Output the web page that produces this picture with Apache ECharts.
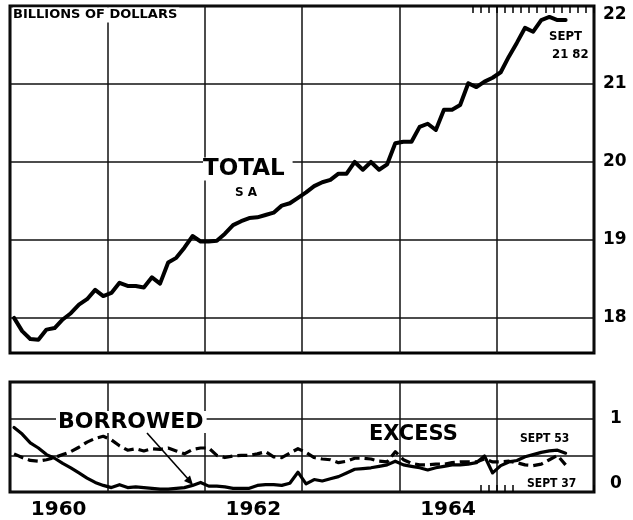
<!DOCTYPE html>
<html>
<head>
<meta charset="utf-8">
<title>Bank reserves</title>
<script src="https://cdn.jsdelivr.net/npm/echarts@6.0.0/dist/echarts.min.js"></script>
<style>
  html, body { margin: 0; padding: 0; background: #fff; }
  #chart { width: 633px; height: 520px; }
</style>
</head>
<body>
<div id="chart"></div>
<script>
// data, monthly from Jan 1960 to Sept 1965
const years = ['1960', '1961', '1962', '1963', '1964', '1965'];
const monthNames = ['Jan', 'Feb', 'Mar', 'Apr', 'May', 'Jun', 'Jul', 'Aug', 'Sep', 'Oct', 'Nov', 'Dec'];
const months = [];
years.forEach(y => monthNames.forEach(m => months.push(m + ' ' + y)));

// total reserves, seasonally adjusted (billions)
const total = [
  18.00, 17.83, 17.73, 17.72, 17.85, 17.87, 17.98, 18.06, 18.17, 18.24, 18.36, 18.28,
  18.32, 18.45, 18.41, 18.41, 18.39, 18.52, 18.44, 18.71, 18.77, 18.90, 19.05, 18.98,
  18.98, 18.99, 19.08, 19.19, 19.24, 19.28, 19.29, 19.32, 19.35, 19.44, 19.47, 19.54,
  19.61, 19.69, 19.74, 19.77, 19.85, 19.85, 20.00, 19.90, 20.00, 19.90, 19.97, 20.24,
  20.26, 20.26, 20.45, 20.49, 20.41, 20.67, 20.67, 20.73, 21.01, 20.96, 21.03, 21.08,
  21.15, 21.35, 21.53, 21.72, 21.67, 21.82, 21.86, 21.82, 21.82
];
// member bank borrowings
const borrowed = [
  0.88, 0.79, 0.67, 0.60, 0.51, 0.46, 0.39, 0.33, 0.26, 0.19, 0.13, 0.09,
  0.06, 0.10, 0.06, 0.07, 0.06, 0.05, 0.04, 0.04, 0.05, 0.06, 0.09, 0.13,
  0.08, 0.08, 0.07, 0.05, 0.05, 0.05, 0.09, 0.10, 0.10, 0.09, 0.12, 0.27,
  0.11, 0.17, 0.15, 0.18, 0.21, 0.26, 0.31, 0.32, 0.33, 0.35, 0.37, 0.42,
  0.37, 0.35, 0.33, 0.30, 0.33, 0.35, 0.37, 0.37, 0.38, 0.40, 0.49, 0.26,
  0.36, 0.41, 0.43, 0.48, 0.51, 0.54, 0.56, 0.57, 0.53
];
// excess reserves
const excess = [
  0.52, 0.47, 0.43, 0.42, 0.44, 0.47, 0.51, 0.55, 0.61, 0.68, 0.73, 0.76,
  0.71, 0.63, 0.57, 0.59, 0.56, 0.59, 0.58, 0.60, 0.56, 0.52, 0.58, 0.60,
  0.60, 0.50, 0.47, 0.49, 0.50, 0.50, 0.52, 0.55, 0.48, 0.47, 0.53, 0.59,
  0.54, 0.47, 0.45, 0.44, 0.40, 0.42, 0.46, 0.46, 0.45, 0.42, 0.41, 0.55,
  0.44, 0.39, 0.37, 0.37, 0.38, 0.38, 0.40, 0.41, 0.41, 0.41, 0.45, 0.41,
  0.41, 0.42, 0.40, 0.37, 0.36, 0.38, 0.44, 0.50, 0.37
];

const totalMin = 17.55, totalMax = 22;
const reserveMin = 0, reserveMax = 1.5;

// month boundaries that carry the small tick marks
const topTickFrom = 57, topTickTo = 71;
const bottomTickFrom = 58, bottomTickTo = 62;

const FONT = '"DejaVu Sans", "Liberation Sans", sans-serif';
const NARROW = '"Liberation Sans Narrow", "DejaVu Sans Condensed", "DejaVu Sans", sans-serif';

const chart = echarts.init(document.getElementById('chart'), null, { renderer: 'canvas' });

// top axis steps by 0.05 from 17.55, so every 20th line (18, 19, 20 ...) is a grid line
const topSplitColors = [];
for (let i = 0; i < 20; i++) topSplitColors.push(i === 9 ? '#111' : 'rgba(0,0,0,0)');

const isWhole = v => Math.abs(v - Math.round(v)) < 1e-6;

const gridLine = { show: true, interval: 11, lineStyle: { color: '#111', width: 1.5 } };
const hidden = { axisLine: { show: false }, axisLabel: { show: false }, splitLine: { show: false } };

function txt(text, x, y, size, opts) {
  return {
    type: 'text', x: x, y: y, z: 100,
    style: Object.assign({
      text: text, font: 'bold ' + size + 'px ' + FONT, fill: '#000',
      textAlign: 'left', textVerticalAlign: 'middle'
    }, opts || {})
  };
}

chart.setOption({
  animation: false,
  backgroundColor: '#fff',
  grid: [
    { left: 10, top: 6, width: 584, height: 347, show: true, borderColor: '#000', borderWidth: 3, backgroundColor: 'transparent' },
    { left: 10, top: 382, width: 584, height: 114, show: true, borderColor: '#000', borderWidth: 3, backgroundColor: 'transparent' }
  ],
  xAxis: [
    { type: 'category', gridIndex: 0, data: months, boundaryGap: true,
      axisLine: { show: false }, axisTick: { show: false }, axisLabel: { show: false },
      splitLine: gridLine },
    { type: 'category', gridIndex: 1, data: months, boundaryGap: true,
      axisLine: { show: false }, axisTick: { show: false }, axisLabel: { show: false },
      splitLine: gridLine },
    { type: 'category', gridIndex: 1, data: years, boundaryGap: true, position: 'bottom',
      axisLine: { show: false }, axisTick: { show: false }, splitLine: { show: false },
      axisLabel: { show: true, interval: 1, margin: 8, color: '#000',
        fontFamily: FONT, fontWeight: 'bold', fontSize: 20 } },
    Object.assign({ type: 'category', gridIndex: 0, data: months, boundaryGap: true, position: 'top',
      axisTick: { show: true, inside: true, length: 7, lineStyle: { color: '#000', width: 1.5 },
        interval: i => i >= topTickFrom && i <= topTickTo } }, hidden),
    Object.assign({ type: 'category', gridIndex: 1, data: months, boundaryGap: true, position: 'bottom',
      axisTick: { show: true, inside: true, length: 7, lineStyle: { color: '#000', width: 1.5 },
        interval: i => i >= bottomTickFrom && i <= bottomTickTo } }, hidden)
  ],
  yAxis: [
    { type: 'value', gridIndex: 0, position: 'right', min: totalMin, max: totalMax, interval: 0.05,
      axisLine: { show: false }, axisTick: { show: false },
      splitLine: { show: true, lineStyle: { color: topSplitColors, width: 1.5 } },
      axisLabel: { margin: 9, color: '#000', fontFamily: FONT, fontWeight: 'bold', fontSize: 17,
        verticalAlignMaxLabel: 'top',
        formatter: v => isWhole(v) ? String(Math.round(v)) : '' } },
    { type: 'value', gridIndex: 1, position: 'right', min: reserveMin, max: reserveMax, interval: 0.5,
      axisLine: { show: false }, axisTick: { show: false },
      splitLine: { show: true, lineStyle: { color: '#111', width: 1.5 } },
      axisLabel: { margin: 16, color: '#000', fontFamily: FONT, fontWeight: 'bold', fontSize: 17,
        verticalAlignMinLabel: 'bottom',
        formatter: v => (v === 0 || v === 1) ? String(v) : '' } }
  ],
  series: [
    { name: 'Total', type: 'line', xAxisIndex: 0, yAxisIndex: 0, data: total,
      symbol: 'none', lineStyle: { color: '#000', width: 4, join: 'round', cap: 'round' } },
    { name: 'Borrowed', type: 'line', xAxisIndex: 1, yAxisIndex: 1, data: borrowed,
      symbol: 'none', lineStyle: { color: '#000', width: 3.2, join: 'round', cap: 'round' } },
    { name: 'Excess', type: 'line', xAxisIndex: 1, yAxisIndex: 1, data: excess,
      symbol: 'none', lineStyle: { color: '#000', width: 3.2, type: [10, 5], join: 'round' } }
  ],
  graphic: [
    txt('BILLIONS OF DOLLARS', 13, 15, 13, { backgroundColor: '#fff', padding: [1, 2, 1, 0] }),
    txt('TOTAL', 203, 169, 23, { backgroundColor: '#fff', padding: [0, 8, 0, 0] }),
    txt('S A', 235, 193, 12),
    txt('SEPT', 549, 37, 13, { font: 'bold 13px ' + NARROW }),
    txt('21 82', 552, 55, 13, { font: 'bold 13px ' + NARROW }),
    txt('BORROWED', 56, 422, 22, { backgroundColor: '#fff', padding: [0, 3, 0, 2] }),
    txt('EXCESS', 369, 435, 21),
    txt('SEPT 53', 520, 439, 12, { font: 'bold 12px ' + NARROW }),
    txt('SEPT 37', 527, 484, 12, { font: 'bold 12px ' + NARROW }),
    { type: 'line', z: 100, shape: { x1: 147, y1: 433, x2: 189, y2: 480 },
      style: { stroke: '#000', lineWidth: 1.6 } },
    { type: 'polygon', z: 100, shape: { points: [[193, 485], [184, 481], [190, 475.5]] },
      style: { fill: '#000' } }
  ]
});
</script>
</body>
</html>
